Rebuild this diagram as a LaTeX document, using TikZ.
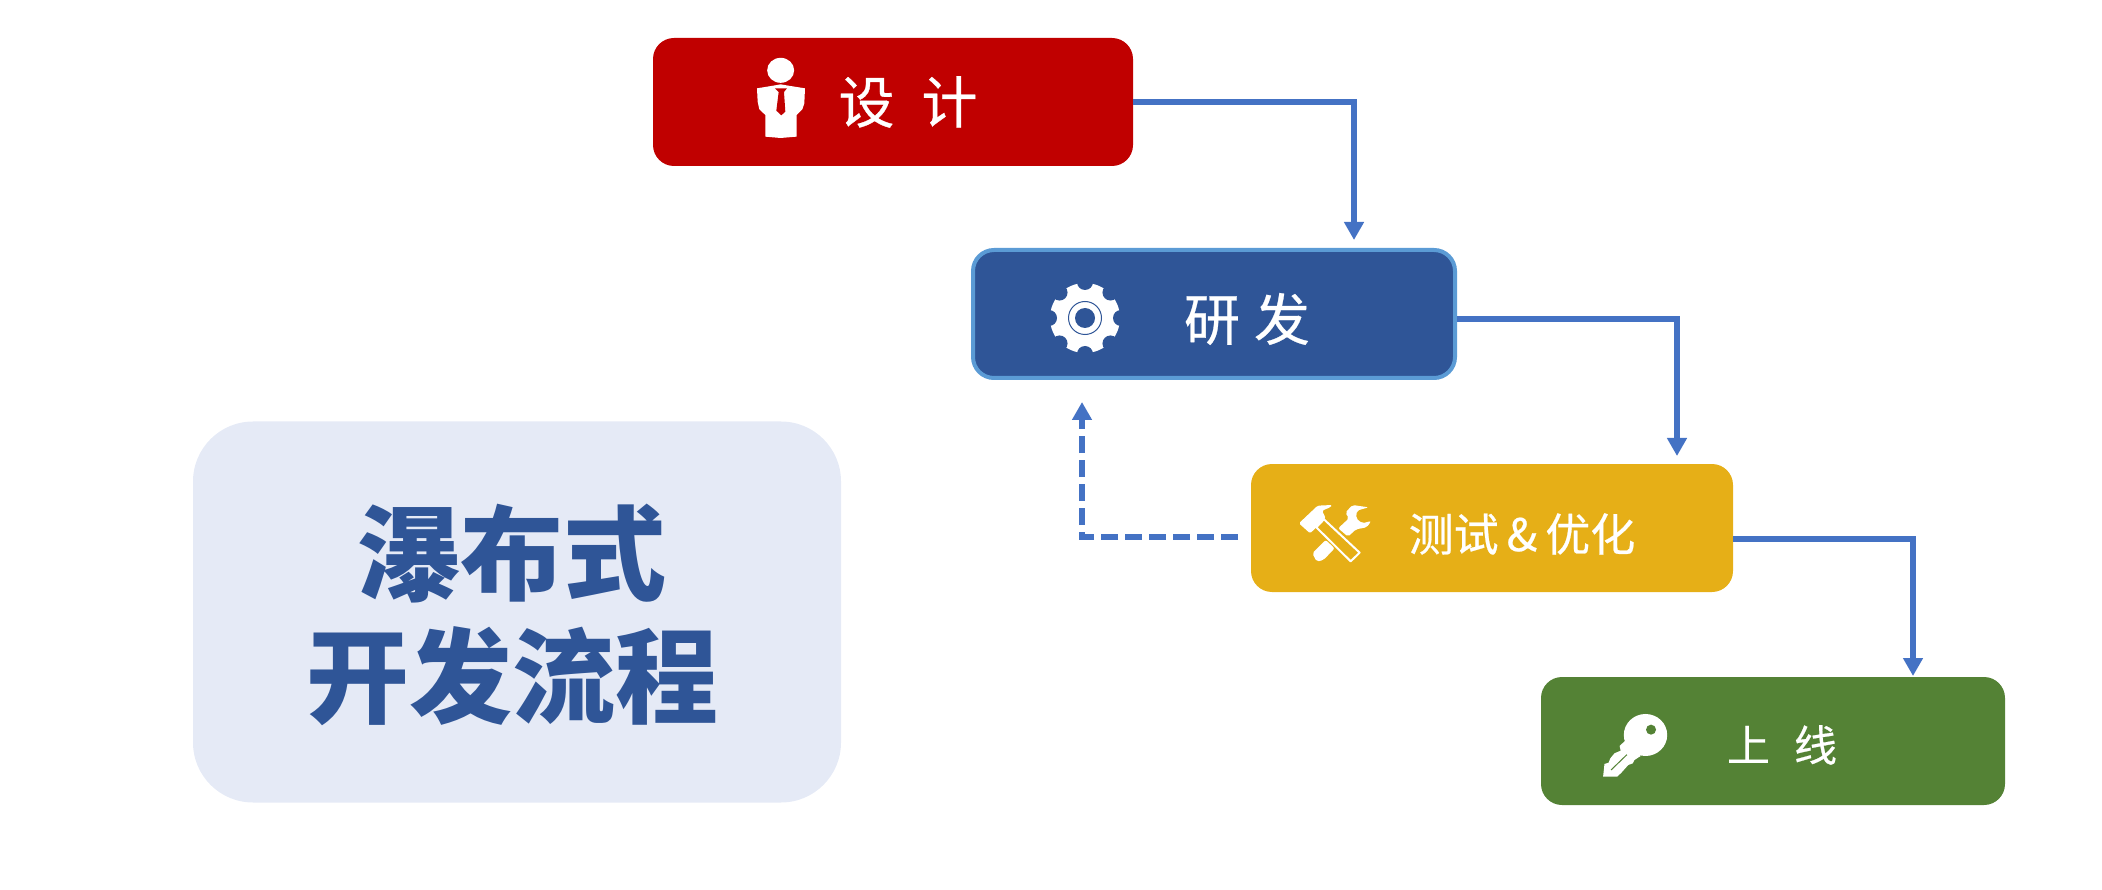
\documentclass[tikz,border=0pt]{standalone}
\usepackage{fontspec}
\usetikzlibrary{arrows.meta}
\newfontfamily\cjk{Noto Sans CJK SC}
\newfontfamily\cjkstage[FakeBold=0.5]{Noto Sans CJK SC}
\definecolor{flowred}{HTML}{C00000}
\definecolor{flowblue}{HTML}{2F5597}
\definecolor{flowedge}{HTML}{5B9BD5}
\definecolor{flowyellow}{HTML}{E6AF17}
\definecolor{flowgreen}{HTML}{548235}
\definecolor{flowpanel}{HTML}{E5EAF6}
\definecolor{flowline}{HTML}{4472C4}
\tikzset{
  stagebox/.style={rounded corners=21pt,inner sep=0pt,minimum height=128pt},
  stagetext/.style={text=white,inner sep=0pt,font=\cjkstage\fontsize{#1}{#1}\selectfont},
  flowlink/.style={draw=flowline,line width=5.5pt,miter limit=10,
    -{Triangle[width=19pt,length=18pt]}},
  back/.style={flowlink,dash pattern=on 17pt off 7pt}
}
\begin{document}
\begin{tikzpicture}[x=1pt,y=-1pt]
\useasboundingbox (0,0) rectangle (2102,890);

% title panel
\node[fill=flowpanel,rounded corners=60pt,minimum width=648pt,minimum height=381pt,inner sep=0pt] (panel) at (517,612) {};
\node[align=center,inner sep=0pt,text=flowblue,font=\cjk\bfseries\fontsize{103}{123}\selectfont] (title) at (512,614.5) {瀑布式\\开发流程};

% stage boxes
\node[stagebox,fill=flowred,minimum width=480pt] (design) at (893,102) {};
\node[stagebox,fill=flowblue,draw=flowedge,line width=4pt,minimum width=482pt] (research) at (1214,314) {};
\node[stagebox,fill=flowyellow,minimum width=482pt] (test) at (1492,528) {};
\node[stagebox,fill=flowgreen,minimum width=464pt] (online) at (1773,741) {};

% stage labels
\node[stagetext=56] (designlabel) at (908,102) {设\hspace{27pt}计};
\node[stagetext=56] (researchlabel) at (1247,319) {研\hspace{14pt}发};
\node[stagetext=45] (testlabel) at (1522,534) {测试\hspace{8pt}\&\hspace{8pt}优化};
\node[stagetext=43] (onlinelabel) at (1782,745) {上\hspace{24pt}线};

% connector ends
\coordinate (tipa) at (1354,240);
\coordinate (startb) at (1457,319);
\coordinate (tipb) at (1677,456);
\coordinate (startc) at (1733,539);
\coordinate (tipc) at (1913,676);
\coordinate (startd) at (1238,537);
\coordinate (tipd) at (1082,402);

\draw[flowlink] (design.east) -| (tipa);
\draw[flowlink] (startb) -| (tipb);
\draw[flowlink] (startc) -| (tipc);
\draw[back] (startd) -| (tipd);

% person icon
\begin{scope}[shift={(640,20)},x=0.3333pt,y=-0.3333pt]
  \fill[white] (422,151) ellipse [x radius=13.5pt,y radius=12.5pt];
  \fill[white] (351,205) -- (400,197) -- (422,193) -- (445,197) -- (495,205) -- (493,250) -- (487,268)
    -- (470,285) -- (470,350) -- (422,354) -- (376,350) -- (376,285) -- (358,268) -- (353,245) -- cycle;
  \fill[flowred] (405,205) -- (441,205) -- (432,216) -- (436,275) -- (424,286) -- (409,272) -- (416,216) -- cycle;
\end{scope}

% gear icon
\begin{scope}[shift={(1085,318)}]
  \fill[white] (0,0) circle [radius=35pt];
  \foreach \a in {0,45,...,315}
    \fill[flowblue] (\a:36pt) circle [radius=8pt];
  \draw[flowblue,line width=1pt] (0,0) circle [radius=16.5pt];
  \fill[flowblue] (0,0) circle [radius=10pt];
\end{scope}

% hammer and wrench icon
\begin{scope}[shift={(1040,390)},x=0.4464pt,y=-0.3333pt]
  \fill[white,rounded corners=1.5pt] (580,400) -- (622,347) -- (655,345) -- (650,352) -- (632,362) -- (640,385) -- (605,430) -- cycle;
  \draw[white,line width=2pt,line join=round] (636,388) -- (716,488) -- (696,514) -- (619,412) -- cycle;
  \fill[white,rounded corners=2pt] (668,415) -- (692,385) -- (684,368) -- (700,345) -- (736,352) -- (710,362)
    -- (708,385) -- (722,400) -- (742,393) -- (732,412) -- (708,418) -- (690,440) -- cycle;
  \fill[white,rounded corners=2pt] (640,450) -- (660,475) -- (635,510) -- (620,515) -- (610,490) -- cycle;
\end{scope}

% key icon
\begin{scope}[shift={(1500,640)},x=0.3448pt,y=-0.3333pt]
  \fill[white] (422,285) ellipse [x radius=21.7pt,y radius=21pt];
  \fill[white] (365,300) -- (347,318) -- (350,332) -- (332,340) -- (320,355) -- (315,368) -- (303,372) -- (299,410)
    -- (340,410) -- (352,398) -- (372,375) -- (385,370) -- (390,360) -- (408,348) -- cycle;
  \draw[flowgreen,line width=1pt] (322,390) -- (368,344);
  \fill[flowgreen] (438,269) ellipse [x radius=5pt,y radius=5pt];
\end{scope}
\end{tikzpicture}
\end{document}
